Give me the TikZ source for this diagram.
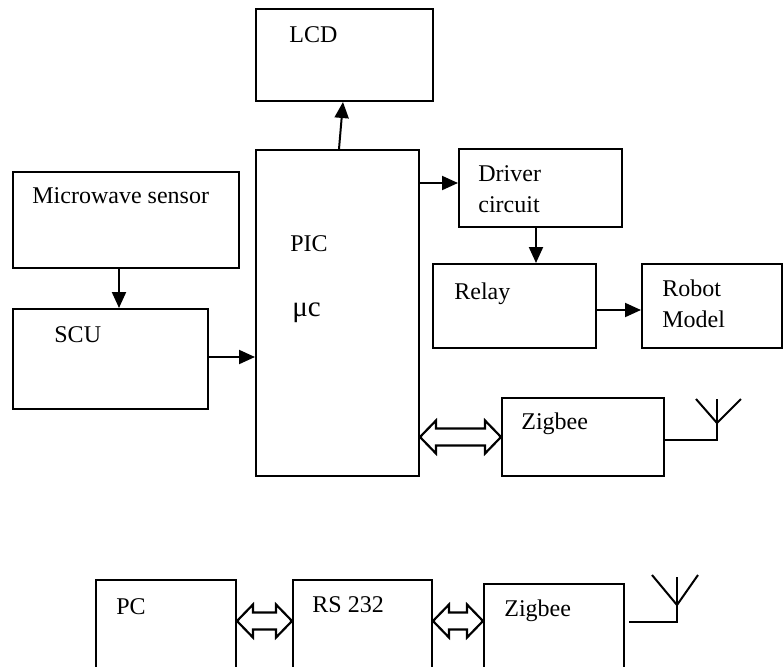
\documentclass[tikz,border=0pt]{standalone}
\usepackage{fontspec}
\setmainfont{Liberation Serif}
\usepackage{tikz}
\usetikzlibrary{arrows.meta,calc}

\tikzset{
  box/.style 2 args={draw, line width=1pt, inner sep=0pt, minimum width=#1*0.5pt, minimum height=#2*0.5pt},
  lbl/.style={anchor=base west, inner sep=0pt, align=left, font=\fontsize{12}{15.5}\selectfont},
  arr/.style={line width=1pt, -{Triangle[length=8pt,width=7pt]}},
  hollow/.style={line width=1.1pt, line join=miter},
  ant/.style={line width=1pt}
}
\newcommand{\hollowarrow}[2]{%
  \draw[hollow] (#1) -- ++(16,-16.5) -- ++(0,8) -- ([shift={(-16,-8.5)}]#2) -- ++(0,-8) -- (#2)
    -- ++(-16,16.5) -- ++(0,-8) -- ([shift={(16,8.5)}]#1) -- ++(0,8) -- cycle;}

\begin{document}
\begin{tikzpicture}[x=0.5pt, y=-0.5pt]
\useasboundingbox (0,0) rectangle (784,666);
\fill[white] (0,0) rectangle (784,666);
\clip (0,0) rectangle (784,666);

\node[box={177}{92}] (lcd) at (344.5,55) {};
\node[box={226}{96}] (micro) at (126,220) {};
\node[box={195}{100}] (scu) at (110.5,359) {};
\node[box={163}{326}] (pic) at (337.5,313) {};
\node[box={163}{78}] (drv) at (540.5,188) {};
\node[box={163}{84}] (rly) at (514.5,306) {};
\node[box={140}{84}] (rob) at (712,306) {};
\node[box={162}{78}] (zig) at (583,437) {};
\node[box={140}{120}] (pc) at (166,640) {};
\node[box={139}{120}] (rs) at (362.5,640) {};
\node[box={140}{116}] (zigb) at (554,642) {};

\node[lbl] (lcdtxt) at ([shift={(34,34)}]lcd.north west) {LCD};
\node[lbl] (microtxt) at ([shift={(20,32)}]micro.north west) {Microwave sensor};
\node[lbl] (scutxt) at ([shift={(42,34)}]scu.north west) {SCU};
\node[lbl] (pictxt) at ([shift={(35,102)}]pic.north west) {PIC};
\node[lbl, font=\fontsize{14.5}{16}\selectfont] (muctxt) at ([shift={(37,167)}]pic.north west) {μc};
\node[lbl] (drvtxt) at ([shift={(20,64)}]drv.north west) {Driver\\circuit};
\node[lbl] (rlytxt) at ([shift={(22,36)}]rly.north west) {Relay};
\node[lbl] (robtxt) at ([shift={(21,64)}]rob.north west) {Robot\\Model};
\node[lbl] (zigtxt) at ([shift={(20,32)}]zig.north west) {Zigbee};
\node[lbl] (pctxt) at ([shift={(21,35)}]pc.north west) {PC};
\node[lbl] (rstxt) at ([shift={(20,33)}]rs.north west) {RS 232};
\node[lbl] (zigbtxt) at ([shift={(21,33)}]zigb.north west) {Zigbee};

\draw[arr] ([xshift=0.75pt]pic.north) -- ([xshift=-0.75pt]lcd.south);
\draw[arr] ([xshift=-3.5pt]micro.south) -- ([xshift=-3.5pt]micro.south |- scu.north);
\draw[arr] ([yshift=1pt]scu.east) -- ([yshift=1pt]scu.east -| pic.west);
\draw[arr] ([yshift=2.5pt]drv.west -| pic.east) -- ([yshift=2.5pt]drv.west);
\draw[arr] ([xshift=-2.25pt]drv.south) -- ([xshift=-2.25pt]drv.south |- rly.north);
\draw[arr] ([yshift=-2pt]rly.east) -- ([yshift=-2pt]rob.west);

\coordinate (picz) at (pic.east |- zig.west);
\hollowarrow{picz}{zig.west}
\coordinate (pcr) at ([yshift=-21pt]pc.north east);
\coordinate (rsl) at (pcr -| rs.west);
\coordinate (rsr) at (pcr -| rs.east);
\coordinate (zigbl) at (pcr -| zigb.west);
\hollowarrow{pcr}{rsl}
\hollowarrow{rsr}{zigbl}

\draw[ant] ([yshift=-1.5pt]zig.east) -- ++(52,0) -- ++(0,-17) coordinate (v1);
\draw[ant] (v1) -- ++(-21,-24);
\draw[ant] (v1) -- ++(24,-24);
\draw[ant] (v1) -- ++(0,-24);
\draw[ant] ([shift={(4,-20)}]zigb.east) -- ++(48,0) -- ++(0,-17) coordinate (v2);
\draw[ant] (v2) -- ++(-25,-30);
\draw[ant] (v2) -- ++(21,-30);
\draw[ant] (v2) -- ++(0,-28);
\end{tikzpicture}
\end{document}
